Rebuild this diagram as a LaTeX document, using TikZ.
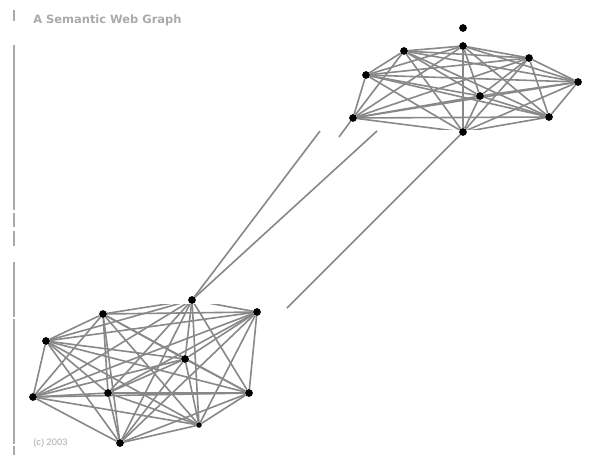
\documentclass[tikz,border=0pt]{standalone}
\usepackage{fontspec}
\setsansfont{Liberation Sans}
\newfontfamily\titlefont{DejaVu Sans}
\usetikzlibrary{backgrounds}
\definecolor{edgegray}{HTML}{888888}
\definecolor{textgray}{HTML}{AAAAAA}

\begin{document}
\begin{tikzpicture}[x=0.75pt,y=-0.75pt,
        dot/.style={circle,fill=black,inner sep=0pt,minimum size=5.8pt},
        smalldot/.style={circle,fill=black,inner sep=0pt,minimum size=4.2pt},
        link/.style={draw=edgegray,line width=1.2pt},
        rule/.style={draw=textgray,line width=0.8pt}]
        \useasboundingbox (0,0) rectangle (611,457);
        \node[font=\titlefont\bfseries\fontsize{8.6}{10}\selectfont,text=textgray,anchor=west,inner sep=0pt] (title) at (33,20) {A Semantic Web Graph};
        \node[font=\sffamily\fontsize{7}{8}\selectfont,text=textgray,anchor=west,inner sep=0pt] (year) at (33,443) {(c) 2003};
        \foreach \a/\b in {10/21, 45/210, 213/227, 231/246, 262/317, 319/444, 446/455}
            \draw[rule] (14,\a) -- (14,\b);
        \foreach \n/\x/\y in {u0/463/28, u1/463/46, u2/404/51, u3/529/58, u4/366/75,
                u5/578/82, u6/480/96, u7/353/118, u8/549/117, u9/463/132}
            \node[dot] (\n) at (\x,\y) {};
        \foreach \n/\x/\y in {l1/192/300, l2/103/314, l3/257/312, l4/46/341, l5/185/359,
                l6/33/397, l7/108/393, l8/249/393, l10/120/443}
            \node[dot] (\n) at (\x,\y) {};
        \node[smalldot] (l9) at (199,425) {};
        \coordinate (cut1) at (320,131);
        \coordinate (cut2) at (377,131);
        \coordinate (cut3) at (287,308);
        \coordinate (cut4) at (339,137);
        \begin{scope}[on background layer]
            \fill[white] (0,0) rectangle (611,457);
            \begin{scope}
                \clip (300,44) rectangle (611,129);
                \foreach \i [evaluate=\i as \k using int(\i+1)] in {1,...,8}
                    \foreach \j in {\k,...,9}
                        \draw[link] (u\i) -- (u\j);
            \end{scope}
            \begin{scope}
                \clip (0,304) rectangle (300,457);
                \foreach \i [evaluate=\i as \k using int(\i+1)] in {1,...,9}
                    \foreach \j in {\k,...,10}
                        \draw[link] (l\i) -- (l\j);
            \end{scope}
            \draw[link] (l1) -- (cut1);
            \draw[link] (l1) -- (cut2);
            \draw[link] (u9) -- (cut3);
            \draw[link] (u7) -- (cut4);
        \end{scope}
\end{tikzpicture}
\end{document}
